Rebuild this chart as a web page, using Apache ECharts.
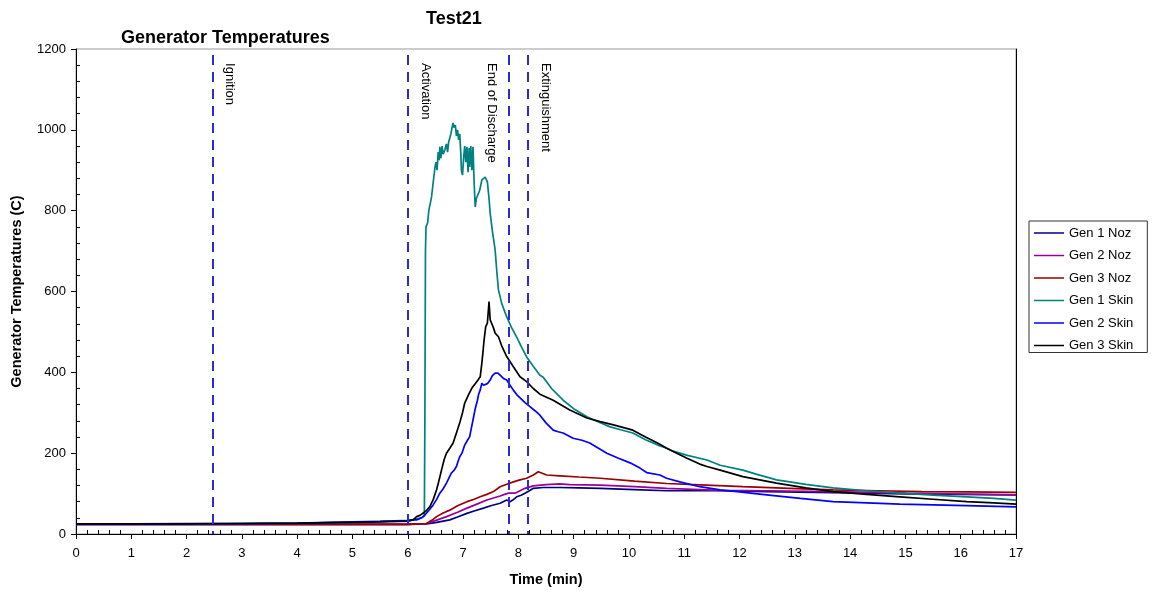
<!DOCTYPE html>
<html>
<head>
    <meta charset="utf-8">
    <title>Test21</title>
    <script src="https://cdn.jsdelivr.net/npm/echarts@6/dist/echarts.min.js"></script>
    <style>
        body { margin: 0; background: #fff; }
        #chart { width: 1153px; height: 594px; }
    </style>
</head>
<body>
    <div id="chart"></div>
    <script>
        // [time (min), temperature (C)]
        var gen1Noz = [[0,24],[3,24],[6,24],[6.34,25],[6.5,28],[6.76,35],[6.9,42],[7.07,51],[7.2,57],[7.37,64],[7.5,70],[7.67,76],[7.79,84],[7.85,80],[7.9,84],[7.97,92],[8.05,96],[8.12,101],[8.2,107],[8.27,113],[8.45,115],[8.75,115],[9.1,114],[9.48,113],[10.1,110],[10.68,107],[11.65,107],[12.5,105],[13.69,102],[15,99],[16,98],[17,97]];
        var gen2Noz = [[0,24],[3,24],[6,24],[6.34,26],[6.5,33],[6.7,43],[6.9,54],[7.07,64],[7.25,74],[7.43,84],[7.55,89],[7.67,94],[7.75,98],[7.82,101],[7.94,101],[8.03,107],[8.12,113],[8.27,119],[8.5,122],[8.75,124],[8.93,122],[9.48,121],[10.1,117],[10.68,113],[11.65,108],[12.5,107],[13.69,105],[15,101],[16,99],[17,97]];
        var gen3Noz = [[0,24],[3,24],[6,24],[6.2,25],[6.34,26],[6.45,35],[6.52,43],[6.64,52],[6.76,59],[6.9,70],[7.07,80],[7.2,86],[7.31,92],[7.43,98],[7.55,105],[7.67,117],[7.79,123],[7.91,129],[8.03,134],[8.15,138],[8.27,146],[8.36,154],[8.42,151],[8.51,146],[8.75,144],[9.1,141],[9.48,138],[10.1,131],[10.68,125],[11.4,121],[12.06,117],[12.9,113],[13.69,109],[14.5,107],[15.3,105],[16.1,104],[17,103]];
        var gen1Skin = [[0,25],[1,25],[2,25],[3,26],[4,27],[5,29],[5.5,31],[6,34],[6.15,37],[6.25,40],[6.3,45],[6.31,300],[6.32,700],[6.33,760],[6.36,770],[6.38,800],[6.41,820],[6.43,834],[6.46,870],[6.49,905],[6.51,920],[6.53,900],[6.55,945],[6.57,925],[6.58,958],[6.6,930],[6.62,960],[6.64,940],[6.67,950],[6.7,965],[6.72,945],[6.74,970],[6.76,980],[6.78,990],[6.8,1005],[6.82,1017],[6.84,1005],[6.86,1012],[6.88,985],[6.9,1000],[6.92,975],[6.94,990],[6.96,940],[6.97,900],[6.99,888],[7.01,930],[7.03,960],[7.05,920],[7.07,958],[7.09,895],[7.11,955],[7.12,908],[7.14,960],[7.16,900],[7.18,958],[7.2,870],[7.22,809],[7.24,830],[7.27,834],[7.3,850],[7.34,876],[7.37,880],[7.4,883],[7.44,871],[7.47,830],[7.49,794],[7.53,750],[7.58,703],[7.61,650],[7.64,604],[7.7,570],[7.79,537],[7.88,510],[7.97,487],[8.06,462],[8.15,438],[8.27,415],[8.39,393],[8.45,388],[8.6,360],[8.81,331],[9,310],[9.24,290],[9.45,277],[9.66,265],[9.85,258],[10.07,250],[10.3,233],[10.56,218],[10.68,213],[10.8,205],[11.04,195],[11.41,183],[11.65,170],[12.06,158],[12.3,148],[12.67,134],[13.2,123],[13.69,114],[14.3,107],[14.9,101],[15.5,96],[16.11,92],[16.6,88],[17,84]];
        var gen2Skin = [[0,25],[1,25],[2,26],[3,26],[4,27],[5,30],[5.5,31],[6,33],[6.1,35],[6.16,35],[6.25,40],[6.31,47],[6.38,58],[6.46,72],[6.52,85],[6.58,101],[6.64,112],[6.7,126],[6.75,140],[6.79,151],[6.84,158],[6.88,167],[6.91,180],[6.94,191],[6.98,200],[7.03,220],[7.08,232],[7.12,241],[7.15,262],[7.18,282],[7.22,310],[7.26,331],[7.28,345],[7.31,356],[7.34,373],[7.37,368],[7.4,364],[7.44,372],[7.49,381],[7.53,392],[7.58,398],[7.63,398],[7.67,393],[7.73,385],[7.79,381],[7.85,368],[7.91,356],[7.97,345],[8.06,333],[8.12,325],[8.21,315],[8.3,305],[8.39,294],[8.5,275],[8.63,257],[8.72,253],[8.81,250],[8.99,237],[9.15,232],[9.29,225],[9.45,212],[9.6,200],[9.8,188],[10.02,176],[10.2,163],[10.32,152],[10.56,146],[10.68,138],[10.92,129],[11.28,117],[11.65,109],[12,104],[12.49,97],[13.1,88],[13.69,80],[14.3,77],[14.9,74],[15.5,72],[16.11,70],[17,67]];
        var gen3Skin = [[0,25],[1,25],[2,25],[3,26],[4,27],[5,29],[5.5,30],[6,32],[6.1,35],[6.16,43],[6.22,46],[6.28,52],[6.34,58],[6.4,68],[6.46,85],[6.52,109],[6.56,130],[6.61,158],[6.66,185],[6.7,200],[6.76,212],[6.82,225],[6.88,250],[6.94,275],[6.99,300],[7.03,324],[7.1,345],[7.16,361],[7.22,372],[7.27,381],[7.31,389],[7.34,423],[7.36,450],[7.38,480],[7.41,513],[7.44,522],[7.47,575],[7.49,530],[7.52,530],[7.55,510],[7.58,497],[7.64,488],[7.7,465],[7.79,439],[7.91,414],[8.03,389],[8.15,377],[8.27,360],[8.39,346],[8.63,331],[8.93,307],[9.24,287],[9.48,278],[9.72,270],[10.07,257],[10.3,240],[10.56,222],[10.68,212],[11.04,188],[11.28,173],[11.41,167],[11.65,158],[12.06,142],[12.67,126],[13.2,114],[13.69,105],[14.3,98],[14.9,92],[15.5,86],[16.11,80],[16.6,77],[17,74]];

        var seriesNames = ['Gen 1 Noz', 'Gen 2 Noz', 'Gen 3 Noz', 'Gen 1 Skin', 'Gen 2 Skin', 'Gen 3 Skin'];
        var seriesColors = ['#000080', '#990099', '#990000', '#008080', '#0000ff', '#000000'];
        var seriesData = [gen1Noz, gen2Noz, gen3Noz, gen1Skin, gen2Skin, gen3Skin];

        // dashed event lines
        var eventTimes = [2.47, 6.0, 7.83, 8.17];
        var eventNames = ['Ignition', 'Activation', 'End of Discharge', 'Extinguishment'];
        var eventSide = ['insideStartTop', 'insideStartTop', 'insideStartBottom', 'insideStartTop'];

        var font = 'Liberation Sans, Arial, sans-serif';

        var eventLines = eventTimes.map(function (t, i) {
            return [
                { xAxis: t, yAxis: 1185, label: { formatter: eventNames[i], position: eventSide[i] } },
                { xAxis: t, yAxis: 0 }
            ];
        });

        var series = seriesNames.map(function (name, i) {
            var s = {
                name: name,
                type: 'line',
                data: seriesData[i],
                symbol: 'none',
                color: seriesColors[i],
                lineStyle: { width: 1.7, color: seriesColors[i] },
                z: 3
            };
            if (i === 0) {
                s.markLine = {
                    silent: true,
                    symbol: ['none', 'none'],
                    lineStyle: { color: '#2b2bd0', width: 2, type: [10, 7] },
                    label: {
                        show: true,
                        distance: [8, 11],
                        color: '#000',
                        fontFamily: font,
                        fontSize: 13
                    },
                    data: eventLines
                };
            }
            return s;
        });

        var chart = echarts.init(document.getElementById('chart'));
        var option = {
            animation: false,
            backgroundColor: '#fff',
            title: [
                { text: 'Test21', left: 421, top: 5, textStyle: { fontFamily: font, fontSize: 18, fontWeight: 'bold', color: '#000' } },
                { text: 'Generator Temperatures', left: 116, top: 24, textStyle: { fontFamily: font, fontSize: 18, fontWeight: 'bold', color: '#000' } }
            ],
            legend: {
                orient: 'vertical',
                left: 1029,
                top: 221,
                icon: 'rect',
                itemWidth: 30,
                itemHeight: 1.5,
                itemGap: 8.5,
                padding: [5, 14, 0, 5],
                borderColor: '#333',
                borderWidth: 1,
                textStyle: { fontFamily: font, fontSize: 13, lineHeight: 14, color: '#000' },
                data: seriesNames
            },
            grid: {
                left: 76, right: 137, top: 49, bottom: 60,
                show: true, borderColor: '#999', borderWidth: 1
            },
            xAxis: {
                type: 'value',
                min: 0, max: 17, interval: 1,
                name: 'Time (min)',
                nameLocation: 'middle',
                nameGap: 38,
                nameTextStyle: { fontFamily: font, fontSize: 14.5, fontWeight: 'bold', color: '#000' },
                axisLine: { lineStyle: { color: '#000', width: 1 } },
                axisTick: { length: 5, lineStyle: { color: '#000' } },
                minorTick: { show: true, splitNumber: 5, length: -4, lineStyle: { color: '#000' } },
                axisLabel: { fontFamily: font, fontSize: 13, color: '#000', margin: 13 },
                splitLine: { show: false }
            },
            yAxis: [{
                type: 'value',
                min: 0, max: 1200, interval: 200,
                name: 'Generator Temperatures (C)',
                nameLocation: 'middle',
                nameGap: 52,
                nameTextStyle: { fontFamily: font, fontSize: 14.5, fontWeight: 'bold', color: '#000' },
                axisLine: { show: true, lineStyle: { color: '#000', width: 1 } },
                axisTick: { length: 5, lineStyle: { color: '#000' } },
                minorTick: { show: true, splitNumber: 5, length: -4, lineStyle: { color: '#000' } },
                axisLabel: { fontFamily: font, fontSize: 13, color: '#000', margin: 10, formatter: function (v) { return String(v); } },
                splitLine: { show: false }
            }, {
                type: 'value',
                position: 'right',
                min: 0, max: 1200,
                axisLine: { show: true, lineStyle: { color: '#000', width: 1 } },
                axisTick: { show: false },
                axisLabel: { show: false },
                splitLine: { show: false }
            }],
            series: series
        };
        chart.setOption(option);
    </script>
</body>
</html>
